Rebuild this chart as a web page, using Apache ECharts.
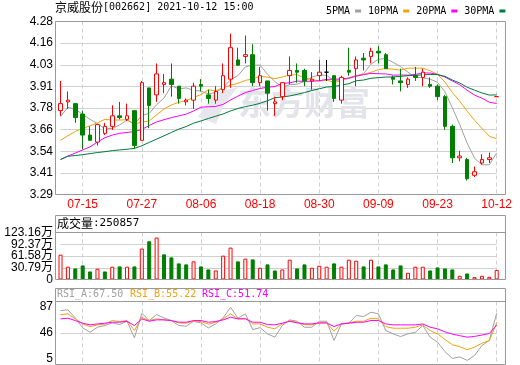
<!DOCTYPE html>
<html><head><meta charset="utf-8">
<script src="https://cdn.jsdelivr.net/npm/echarts@6/dist/echarts.min.js"></script>
<style>html,body{margin:0;padding:0;background:#fff}#c{width:520px;height:365px}</style>
</head><body><div id="c"></div>
<script>
// ---------- data ----------
const dates=['07-12','07-13','07-14','07-15','07-16','07-19','07-20','07-21','07-22','07-23',
'07-26','07-27','07-28','07-29','07-30','08-02','08-03','08-04','08-05','08-06',
'08-09','08-10','08-11','08-12','08-13','08-16','08-17','08-18','08-19','08-20',
'08-23','08-24','08-25','08-26','08-27','08-30','08-31','09-01','09-02','09-03',
'09-06','09-07','09-08','09-09','09-10','09-13','09-14','09-15','09-16','09-17',
'09-22','09-23','09-24','09-27','09-28','09-29','09-30','10-08','10-11','10-12'];
const openP=[3.77,3.82,3.81,3.75,3.63,3.59,3.64,3.68,3.74,3.72,
3.77,3.60,3.90,3.86,3.92,3.95,3.91,3.82,3.83,3.92,
3.86,3.83,3.89,3.95,4.06,4.08,4.09,3.93,3.94,3.81,
3.85,3.97,4.00,4.00,3.94,3.97,3.99,3.97,3.83,4.00,
4.01,4.07,4.08,4.11,4.09,3.96,3.94,3.92,3.97,3.96,
3.92,3.91,3.85,3.68,3.50,3.49,3.40,3.47,3.49,3.85];
const closeP=[3.81,3.83,3.73,3.63,3.60,3.69,3.68,3.74,3.73,3.74,
3.57,3.93,3.80,3.98,3.93,3.92,3.84,3.83,3.91,3.91,
3.84,3.88,3.97,4.13,4.03,4.09,3.93,3.97,3.87,3.82,
3.93,4.00,3.99,3.94,3.95,3.99,3.99,3.84,3.96,3.99,
4.06,4.06,4.11,4.10,4.01,3.95,3.93,3.95,3.96,3.99,
3.91,3.85,3.68,3.50,3.51,3.38,3.42,3.49,3.50,3.85];
const lowP=[3.74,3.78,3.70,3.55,3.60,3.57,3.63,3.66,3.72,3.71,
3.55,3.60,3.67,3.82,3.87,3.85,3.81,3.80,3.78,3.88,
3.81,3.81,3.87,3.90,4.03,4.04,3.91,3.91,3.77,3.74,
3.83,3.92,3.93,3.91,3.89,3.94,3.94,3.82,3.81,3.97,
3.91,4.00,4.04,4.04,4.01,3.92,3.88,3.90,3.94,3.91,
3.90,3.83,3.66,3.47,3.48,3.37,3.39,3.46,3.47,3.85];
const highP=[3.94,3.88,3.81,3.77,3.68,3.69,3.70,3.80,3.82,3.81,
3.77,3.94,3.90,4.04,3.98,4.04,3.91,3.84,3.93,3.95,
3.89,3.91,4.04,4.21,4.13,4.20,4.15,4.02,3.94,3.85,
3.93,4.08,4.04,4.01,3.99,4.06,4.06,3.97,3.97,4.13,
4.08,4.10,4.13,4.14,4.10,3.97,4.01,3.96,4.02,4.01,
3.96,3.92,3.86,3.69,3.54,3.50,3.45,3.52,3.53,3.85];
const ma5=[3.736,3.789,3.778,3.749,3.720,3.696,3.666,3.668,3.688,3.716,
3.692,3.742,3.754,3.804,3.842,3.912,3.894,3.900,3.886,3.882,
3.866,3.874,3.902,3.946,3.970,4.020,4.030,4.030,3.978,3.936,
3.904,3.918,3.922,3.936,3.962,3.974,3.972,3.942,3.946,3.954,
3.968,3.982,4.036,4.064,4.068,4.046,4.022,3.990,3.962,3.958,
3.950,3.932,3.878,3.786,3.690,3.584,3.498,3.460,3.460,3.528];
const ma10=[3.600,3.626,3.651,3.668,3.683,3.700,3.720,3.716,3.716,3.718,
3.694,3.704,3.711,3.746,3.779,3.802,3.818,3.827,3.845,3.862,
3.889,3.884,3.901,3.916,3.926,3.943,3.952,3.966,3.962,3.953,
3.962,3.974,3.976,3.957,3.949,3.939,3.945,3.932,3.941,3.958,
3.971,3.977,3.989,4.005,4.011,4.007,4.002,4.013,4.013,4.013,
3.998,3.977,3.934,3.874,3.824,3.767,3.715,3.669,3.623,3.609];
const ma20=[3.490,3.510,3.527,3.545,3.563,3.590,3.615,3.630,3.640,3.645,
3.650,3.662,3.685,3.705,3.718,3.730,3.740,3.750,3.768,3.790,
3.792,3.794,3.806,3.831,3.853,3.873,3.885,3.897,3.904,3.908,
3.926,3.929,3.939,3.937,3.938,3.941,3.949,3.949,3.952,3.956,
3.967,3.976,3.983,3.981,3.980,3.973,3.974,3.973,3.977,3.986,
3.985,3.977,3.962,3.940,3.918,3.887,3.859,3.841,3.818,3.811];
const ma30=[3.490,3.509,3.513,3.518,3.524,3.530,3.535,3.541,3.545,3.549,
3.554,3.569,3.588,3.607,3.626,3.645,3.664,3.679,3.698,3.711,
3.725,3.738,3.751,3.768,3.782,3.793,3.801,3.812,3.827,3.844,
3.848,3.854,3.863,3.873,3.885,3.895,3.905,3.908,3.916,3.924,
3.941,3.945,3.955,3.959,3.962,3.963,3.966,3.970,3.972,3.975,
3.977,3.976,3.966,3.945,3.928,3.904,3.887,3.871,3.859,3.860];
const volumes=[651000,335000,290000,369000,211000,282000,211000,335000,343000,335000,
343000,810000,1002000,1100000,659000,580000,422000,396000,475000,343000,
264000,237000,625000,836000,475000,546000,527000,308000,396000,237000,
264000,519000,290000,396000,308000,361000,335000,422000,335000,519000,
493000,343000,519000,343000,396000,264000,369000,176000,335000,335000,
237000,316000,290000,264000,97000,158000,61000,97000,70000,250857];
const volUp=[1,1,0,0,0,1,0,1,0,1, 0,1,0,1,0,0,0,0,1,0, 0,1,1,1,0,1,0,1,0,0,
1,1,0,0,1,1,1,0,1,1, 1,0,1,0,0,0,0,1,1,1, 0,0,0,0,1,0,1,1,1,1];
const rsiA=[71.1,72.0,61.4,48.2,42.5,49.1,51.3,54.8,52.6,57.0,
35.1,67.5,57.9,65.8,61.4,57.9,51.3,50.4,57.0,54.8,
48.2,53.5,61.4,75.4,61.0,66.7,46.0,48.6,40.4,36.0,
51.3,58.8,57.0,49.1,49.1,57.0,57.0,31.6,53.5,54.4,
64.5,63.2,68.9,66.7,44.7,40.4,36.8,40.4,42.5,51.3,
36.0,29.4,17.0,8.0,10.0,5.5,11.8,25.0,31.6,67.50];
const rsiB=[65.8,66.7,60.1,53.5,50.0,52.2,53.1,57.9,56.6,57.9,
44.7,62.3,57.9,60.1,58.8,57.9,54.8,54.4,57.0,56.6,
53.1,55.7,60.1,66.7,60.1,61.0,53.5,53.5,49.1,47.0,
53.5,57.9,55.7,52.6,52.2,54.8,54.8,43.9,53.5,54.8,
57.0,57.0,61.0,60.1,50.0,47.8,47.8,47.8,49.1,52.2,
44.7,40.4,33.0,26.0,23.5,19.5,22.8,28.1,31.6,55.22];
const rsiC=[60.1,61.0,57.9,54.4,52.2,53.5,54.4,55.7,55.7,57.0,
51.3,60.1,57.0,58.8,58.8,57.9,55.7,55.7,57.9,57.9,
55.7,56.6,58.8,62.3,60.1,60.1,55.7,55.7,52.6,52.2,
54.4,57.0,54.8,53.5,53.5,54.8,54.8,50.0,53.5,54.4,
55.7,55.7,57.9,57.9,53.5,52.2,52.2,52.2,52.2,53.5,
49.1,47.0,43.0,40.0,38.0,36.0,37.0,38.8,40.8,51.74];
const priceTicks=['3.29','3.41','3.54','3.66','3.78','3.91','4.03','4.16','4.28'];
const volTicks=['0','30.79万','61.58万','92.37万','123.16万'];
const rsiTicks=['5','46','87'];
const stockTitle='京威股份';
const stockCode='[002662] 2021-10-12 15:00';

// ---------- styles ----------
const UP='#ff0000', DOWN='#008000', FRAME='#999999', GL='#d0d0d0';
const C5='#a0a0a0', C10='#f2a20c', C20='#ff00ff', C30='#007a3d';
const MONO="'DejaVu Sans Mono','Liberation Mono',monospace";
const CJK="'Noto Sans CJK SC',sans-serif";
const SANS="'Liberation Sans','Noto Sans CJK SC',sans-serif";
const GL_LEFT=60.5, GR=520-496.7;
const VOL_TOP=232.5, VOL_H=47;
const isTick=(i)=> i>=3 && (i-3)%8===0;

const candleData=dates.map((d,i)=>{
  const it={value:[openP[i],closeP[i],lowP[i],highP[i]]};
  if(openP[i]===closeP[i]){
    const prev=i>0?closeP[i-1]:closeP[i];
    const c=closeP[i]>prev?UP:(closeP[i]<prev?DOWN:'#000000');
    it.itemStyle={color:'#fff',color0:'#fff',borderColor:c,borderColor0:c,borderColorDoji:c};
  }
  return it;
});
const volData=volumes.map((v,i)=>({value:v,itemStyle:volUp[i]?{color:'#ffffff',borderColor:UP,borderWidth:1}:{color:DOWN,borderColor:DOWN,borderWidth:1}}));

const chart=echarts.init(document.getElementById('c'),null,{renderer:'canvas'});
const xAx=(g)=>({type:'category',gridIndex:g,data:dates,boundaryGap:false,
  axisLine:{show:false},axisTick:{show:false},
  axisLabel:{show:g===0,interval:(i)=>isTick(i),color:'#ff0000',fontSize:12,fontFamily:SANS,margin:4},
  splitLine:{show:g<3,interval:(i)=>isTick(i),lineStyle:{color:GL,type:[4,3],width:1}}});
const lblStyle={color:'#000',fontSize:12,fontFamily:SANS,margin:7.5,showMinLabel:true,showMaxLabel:true,hideOverlap:false};
const lineS=(name,data,color,xi,yi)=>({name,type:'line',data,xAxisIndex:xi,yAxisIndex:yi,color,
  showSymbol:false,symbol:'none',lineStyle:{width:1,color},z:3,clip:false});
const volStep=VOL_H/4;

chart.setOption({
  animation:false,
  backgroundColor:'#ffffff',
  legend:{data:['5PMA','10PMA','20PMA','30PMA'],left:321,top:1,align:'right',icon:'rect',
    itemWidth:6,itemHeight:3,itemGap:7,selectedMode:false,
    textStyle:{fontFamily:MONO,fontSize:10,color:'#000'}},
  grid:[
    {left:GL_LEFT,right:GR,top:21.5,height:173},
    {left:GL_LEFT,right:GR,top:VOL_TOP,height:VOL_H},
    {left:GL_LEFT,right:GR,top:301.5,height:63},
    {left:GL_LEFT,right:GR,top:306.7,height:52.6},
    {left:GL_LEFT,right:GR,top:VOL_TOP+volStep,height:volStep*2}
  ],
  xAxis:[xAx(0),xAx(1),xAx(2),xAx(3),xAx(4)],
  yAxis:[
    {type:'value',gridIndex:0,min:3.29,max:4.28,show:false,splitLine:{show:false}},
    {type:'value',gridIndex:0,min:0,max:8,interval:1,position:'left',axisLine:{show:false},axisTick:{show:false},
      axisLabel:Object.assign({formatter:(v)=>priceTicks[Math.round(v)]},lblStyle),
      splitLine:{show:true,lineStyle:{color:GL,width:1}}},
    {type:'value',gridIndex:1,min:0,max:1231600,interval:307900,position:'left',axisLine:{show:false},axisTick:{show:false},
      axisLabel:Object.assign({formatter:(v)=>{const k=Math.round(v/307900);return k%2===0?volTicks[k]:'';}},lblStyle),
      splitLine:{show:true,lineStyle:{color:GL,width:1}}},
    {type:'value',gridIndex:2,min:0,max:83,show:false,splitLine:{show:false}},
    {type:'value',gridIndex:3,min:0,max:2,interval:1,position:'left',axisLine:{show:false},axisTick:{show:false},
      axisLabel:Object.assign({formatter:(v)=>rsiTicks[Math.round(v)]},lblStyle),
      splitLine:{show:true,lineStyle:{color:['rgba(0,0,0,0)',GL,'rgba(0,0,0,0)'],width:1}}},
    {type:'value',gridIndex:4,min:0,max:2,interval:2,position:'left',axisLine:{show:false},axisTick:{show:false},
      axisLabel:Object.assign({formatter:(v)=>volTicks[1+Math.round(v)]},lblStyle),
      splitLine:{show:false}}
  ],
  series:[
    {name:'K',type:'candlestick',xAxisIndex:0,yAxisIndex:0,data:candleData,barWidth:4,clip:false,z:4,
      itemStyle:{color:'#ffffff',color0:DOWN,borderColor:UP,borderColor0:DOWN,borderWidth:1}},
    lineS('5PMA',ma5,C5,0,0),
    lineS('10PMA',ma10,C10,0,0),
    lineS('20PMA',ma20,C20,0,0),
    lineS('30PMA',ma30,C30,0,0),
    {name:'VOL',type:'bar',xAxisIndex:1,yAxisIndex:2,data:volData,barWidth:4,clip:false,z:3},
    lineS('RSI_A',rsiA,C5,2,3),
    lineS('RSI_B',rsiB,C10,2,3),
    lineS('RSI_C',rsiC,C20,2,3)
  ],
  graphic:[
    {type:'polygon',z:1,shape:{points:[[198,117],[214,93],[238,87],[224,104],[216,124]]},style:{fill:'#e6e6ec'}},
    {type:'text',z:1,x:238,y:86,style:{text:'东方财富',fill:'#e3e3ea',font:"bold 33px 'Noto Sans CJK SC'"}},
    {type:'rect',z:50,shape:{x:55.5,y:21.5,width:450,height:173},style:{fill:null,stroke:FRAME,lineWidth:1}},
    {type:'rect',z:50,shape:{x:55.5,y:215.5,width:450,height:64},style:{fill:null,stroke:FRAME,lineWidth:1}},
    {type:'line',z:50,shape:{x1:55.5,y1:232.5,x2:505.5,y2:232.5},style:{stroke:FRAME,lineWidth:1}},
    {type:'rect',z:50,shape:{x:55.5,y:288.5,width:450,height:76},style:{fill:null,stroke:FRAME,lineWidth:1}},
    {type:'line',z:50,shape:{x1:55.5,y1:301.5,x2:505.5,y2:301.5},style:{stroke:FRAME,lineWidth:1}},
    {type:'text',z:50,x:55,y:1,style:{text:'{a|'+stockTitle+'}{b|'+stockCode+'}',
      rich:{a:{fontFamily:CJK,fontSize:12,fill:'#000'},b:{fontFamily:MONO,fontSize:10,fill:'#000'}}}},
    {type:'text',z:50,x:57,y:217,style:{text:'{a|成交量}{b|:'+volumes[volumes.length-1]+'}',
      rich:{a:{fontFamily:CJK,fontSize:12,fill:'#000'},b:{fontFamily:MONO,fontSize:11,fill:'#000'}}}},
    {type:'text',z:50,x:57,y:289,style:{text:'RSI_A:'+rsiA[rsiA.length-1].toFixed(2),fill:C5,font:"10px 'DejaVu Sans Mono'"}},
    {type:'text',z:50,x:130,y:289,style:{text:'RSI_B:'+rsiB[rsiB.length-1].toFixed(2),fill:C10,font:"10px 'DejaVu Sans Mono'"}},
    {type:'text',z:50,x:202,y:289,style:{text:'RSI_C:'+rsiC[rsiC.length-1].toFixed(2),fill:C20,font:"10px 'DejaVu Sans Mono'"}}
  ]
});
</script></body></html>
